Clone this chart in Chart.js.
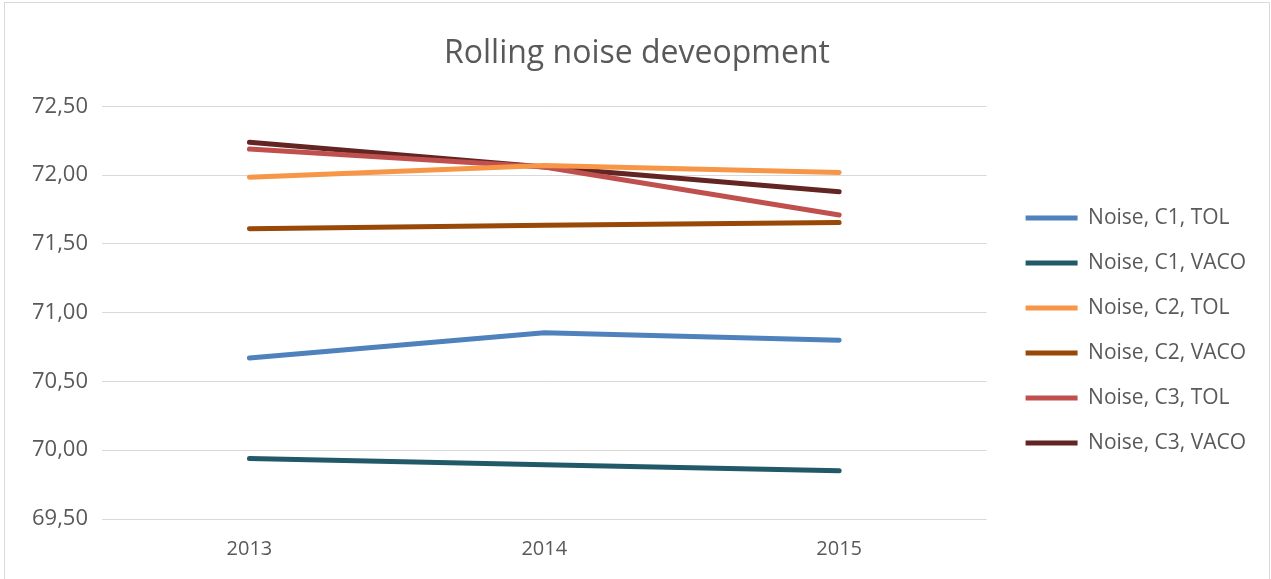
<!DOCTYPE html>
<html>
<head>
<meta charset="utf-8">
<script src="https://cdn.jsdelivr.net/npm/chart.js@4.4.0/dist/chart.umd.min.js"></script>
<style>
  html, body { margin: 0; padding: 0; background: #fff; overflow: hidden; }
  #frame { position: absolute; left: 4px; top: 2px; width: 1264px; height: 600px; border: 1px solid #d9d9d9; }
  #wrap { position: absolute; left: 0; top: 0; width: 1271px; height: 579px; }
</style>
</head>
<body>
<div id="frame"></div>
<div id="wrap"><canvas id="myChart"></canvas></div>
<script>
  "use strict";

  // years on the x axis
  const years = ['2013', '2014', '2015'];

  // noise values
  const c1Tol = [70.67, 70.855, 70.80];
  const c1Vaco = [69.94, 69.895, 69.85];
  const c2Tol = [71.985, 72.07, 72.02];
  const c2Vaco = [71.61, 71.635, 71.655];
  const c3Tol = [72.19, 72.06, 71.71];
  const c3Vaco = [72.24, 72.06, 71.88];

  const yMin = 69.5;
  const yMax = 72.5;
  const yStep = 0.5;

  function serie(label, values, color) {
    return {
      label: label,
      data: values,
      borderColor: color,
      backgroundColor: color,
      borderWidth: 5,
      borderCapStyle: 'round',
      pointRadius: 0,
      tension: 0,
      fill: false
    };
  }

  // pushes the legend a bit away from the plot, like the excel chart
  const legendGap = {
    id: 'legendGap',
    afterInit: function (chart) {
      const fit = chart.legend.fit;
      chart.legend.fit = function () {
        fit.call(this);
        this.width += 15;
      };
    },
    afterLayout: function (chart) {
      chart.legend.left += 15;
    }
  };

  const data_noise = {
    labels: years,
    datasets: [
      serie('Noise, C1, TOL', c1Tol, '#4f81bd'),
      serie('Noise, C1, VACO', c1Vaco, '#215968'),
      serie('Noise, C2, TOL', c2Tol, '#f79646'),
      serie('Noise, C2, VACO', c2Vaco, '#984807'),
      serie('Noise, C3, TOL', c3Tol, '#c0504d'),
      serie('Noise, C3, VACO', c3Vaco, '#632523')
    ]
  };

  const config_noise = {
    type: 'line',
    data: data_noise,
    plugins: [legendGap],
    options: {
      responsive: true,
      maintainAspectRatio: false,
      animation: false,
      layout: {
        padding: { left: 18, right: 15, top: 0, bottom: 0 }
      },
      scales: {
        x: {
          offset: true,
          grid: { display: false, drawTicks: false },
          border: { display: false },
          ticks: {
            color: '#595959',
            padding: 20,
            font: { family: 'Open Sans', size: 20, lineHeight: 1 }
          }
        },
        y: {
          min: yMin,
          max: yMax,
          border: { display: false },
          grid: { color: '#d9d9d9', lineWidth: 1, drawTicks: false },
          ticks: {
            stepSize: yStep,
            color: '#595959',
            padding: 14,
            font: { family: 'Open Sans', size: 22 },
            callback: function (value) {
              return Number(value).toFixed(2).replace('.', ',');
            }
          }
        }
      },
      plugins: {
        title: {
          display: true,
          text: 'Rolling noise deveopment',
          color: '#595959',
          font: { family: 'Open Sans', size: 32, weight: 'normal' },
          padding: { top: 35, bottom: 33 }
        },
        legend: {
          position: 'right',
          title: {
            display: true,
            text: ' ',
            font: { size: 10 },
            padding: { top: 35, bottom: 35 }
          },
          labels: {
            usePointStyle: true,
            pointStyle: 'line',
            pointStyleWidth: 52,
            boxHeight: 21,
            padding: 24,
            color: '#595959',
            font: { family: 'Open Sans', size: 21 }
          }
        },
        tooltip: { enabled: false }
      }
    }
  };

  const ctx_noise = document.getElementById('myChart');
  const myChart_noise = new Chart(ctx_noise, config_noise);
</script>
</body>
</html>
